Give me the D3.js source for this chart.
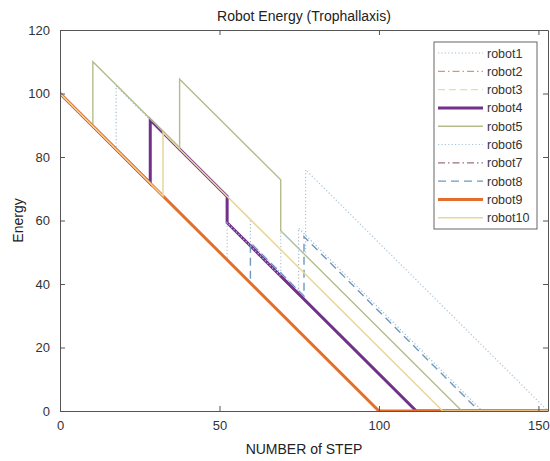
<!DOCTYPE html>
<html>
<head>
<meta charset="utf-8">
<script src="https://cdn.jsdelivr.net/npm/d3@7"></script>
<style>
  body { margin: 0; background: #fff; }
  svg { font-family: "Liberation Sans", Arial, sans-serif; }
</style>
</head>
<body>
<div class="container"></div>
<script>
/* Robot names (legend order) */
const robots = ["robot1", "robot2", "robot3", "robot4", "robot5", "robot6", "robot7", "robot8", "robot9", "robot10"];

/* Break points of each energy trace: [step, energy] */
const robot1 = [[0, 100], [17.6, 82.4], [17.6, 102.4], [59.7, 60.3], [59.7, 53], [74.8, 37.9], [74.8, 57.6], [132.4, 0], [153, 0]];
const robot2 = [[0, 100], [100, 0], [153, 0]];
const robot3 = [[0, 100], [100, 0], [153, 0]];
const robot4 = [[0, 100], [28.3, 71.7], [28.3, 91.7], [52.4, 67.6], [52.4, 59.3], [111.7, 0], [153, 0]];
const robot5 = [[0, 100], [10.3, 89.7], [10.3, 110], [37.5, 82.8], [37.5, 104.5], [69.2, 72.8], [69.2, 56.8], [126, 0], [153, 0]];
const robot6 = [[0, 100], [52.4, 47.6], [52.4, 59.3], [69.2, 42.5], [69.2, 56.8], [77, 49], [77, 76], [153, 0]];
const robot7 = [[0, 100], [100, 0], [153, 0]];
const robot8 = [[0, 100], [59.7, 40.3], [59.7, 53], [76.5, 36.2], [76.5, 54.9], [131.4, 0], [153, 0]];
const robot9 = [[0, 100], [100, 0], [153, 0]];
const robot10 = [[0, 100], [32.3, 67.7], [32.3, 87.7], [120, 0], [153, 0]];

/* Tick values */
const xTicks = [0, 50, 100, 150];
const yTicks = [0, 20, 40, 60, 80, 100, 120];

const traces = [robot1, robot2, robot3, robot4, robot5, robot6, robot7, robot8, robot9, robot10];

/* line look for each robot: colour, dash pattern, width */
const styles = [
    { color: "#a3bccf", dash: "1.2,2.2", width: 1.2 },
    { color: "#c99c7c", dash: "7,3,1.5,3", width: 1.2 },
    { color: "#e9dd9f", dash: "7,4", width: 1.2 },
    { color: "#73308b", dash: null, width: 3 },
    { color: "#b3bd8c", dash: null, width: 1.4 },
    { color: "#a9c6da", dash: "1.2,2.2", width: 1.2 },
    { color: "#9b6f82", dash: "7,3,1.5,3", width: 1.2 },
    { color: "#6e98bd", dash: "8,5", width: 1.4 },
    { color: "#e2702c", dash: null, width: 3 },
    { color: "#ead69a", dash: null, width: 1.5 }
];

const w = 550;
const h = 461;
const margin = { left: 60, right: 2, top: 30, bottom: 50 };

const xScale = d3.scaleLinear()
                 .domain([0, 153])
                 .range([margin.left, w - margin.right]);

const yScale = d3.scaleLinear()
                 .domain([0, 120])
                 .range([h - margin.bottom, margin.top]);

const svg = d3.select(".container")
              .append("svg")
              .attr("width", w)
              .attr("height", h);

/* clip so the lines stay inside the box */
svg.append("clipPath")
   .attr("id", "plot-clip")
   .append("rect")
   .attr("x", margin.left)
   .attr("y", margin.top)
   .attr("width", w - margin.left - margin.right)
   .attr("height", h - margin.top - margin.bottom);

const line = d3.line()
               .x((d) => xScale(d[0]))
               .y((d) => yScale(d[1]));

svg.append("g")
   .attr("clip-path", "url(#plot-clip)")
   .selectAll("path")
   .data(traces)
   .enter()
   .append("path")
   .attr("d", (d) => line(d))
   .attr("fill", "none")
   .attr("stroke", (d, i) => styles[i].color)
   .attr("stroke-width", (d, i) => styles[i].width)
   .attr("stroke-dasharray", (d, i) => styles[i].dash)
   .attr("stroke-linejoin", "miter");

/* Axes, MATLAB style: ticks point inwards, box all round */
const axisColor = "#555";
const x0 = h - margin.bottom;

const xAxis = d3.axisBottom(xScale).tickValues(xTicks).tickSizeInner(-5).tickSizeOuter(0).tickPadding(10);
const yAxis = d3.axisLeft(yScale).tickValues(yTicks).tickSizeInner(-5).tickSizeOuter(0).tickPadding(10);
const xTop = d3.axisTop(xScale).tickValues(xTicks).tickSizeInner(-5).tickSizeOuter(0).tickFormat("");
const yRight = d3.axisRight(yScale).tickValues(yTicks).tickSizeInner(-5).tickSizeOuter(0).tickFormat("");

svg.append("g").attr("id", "x-axis").attr("transform", "translate(0," + x0 + ")").call(xAxis);
svg.append("g").attr("id", "y-axis").attr("transform", "translate(" + margin.left + ",0)").call(yAxis);
svg.append("g").attr("transform", "translate(0," + margin.top + ")").call(xTop);
svg.append("g").attr("transform", "translate(" + (w - margin.right) + ",0)").call(yRight);

svg.selectAll(".domain, .tick line").attr("stroke", axisColor);
svg.selectAll(".tick text")
   .attr("fill", "#333")
   .style("font-size", "13px")
   .style("font-family", "'Liberation Sans', Arial, sans-serif");

// title
svg.append("text")
   .attr("x", (margin.left + w - margin.right) / 2)
   .attr("y", 21)
   .style("text-anchor", "middle")
   .style("font-size", "14px")
   .attr("fill", "#222")
   .text("Robot Energy (Trophallaxis)");

// text label for the x axis
svg.append("text")
   .attr("x", (margin.left + w - margin.right) / 2)
   .attr("y", 454)
   .style("text-anchor", "middle")
   .style("font-size", "14px")
   .attr("fill", "#222")
   .text("NUMBER of STEP");

// text label for the y axis
svg.append("text")
   .attr("transform", "rotate(-90)")
   .attr("x", -(margin.top + x0) / 2)
   .attr("y", 23)
   .style("text-anchor", "middle")
   .style("font-size", "14px")
   .attr("fill", "#222")
   .text("Energy");

/* =============== LEGEND =============== */
const legend = svg.append("g").attr("id", "legend");
const lgX = 434, lgY = 42, lgW = 103, lgRow = 18.3;

legend.append("rect")
      .attr("x", lgX)
      .attr("y", lgY)
      .attr("width", lgW)
      .attr("height", robots.length * lgRow + 4)
      .attr("fill", "#fff")
      .attr("stroke", "#666")
      .attr("stroke-width", 1);

const rows = legend.selectAll(".entry")
                   .data(robots)
                   .enter()
                   .append("g")
                   .attr("class", "entry")
                   .attr("transform", (d, i) => "translate(" + lgX + "," + (lgY + 11 + i * lgRow) + ")");

rows.append("line")
    .attr("x1", 4)
    .attr("x2", 49)
    .attr("y1", 0)
    .attr("y2", 0)
    .attr("stroke", (d, i) => styles[i].color)
    .attr("stroke-width", (d, i) => styles[i].width)
    .attr("stroke-dasharray", (d, i) => styles[i].dash);

rows.append("text")
    .attr("x", 53)
    .attr("y", 4.5)
    .style("font-size", "12.5px")
    .attr("fill", "#333")
    .text((d) => d);
</script>
</body>
</html>
